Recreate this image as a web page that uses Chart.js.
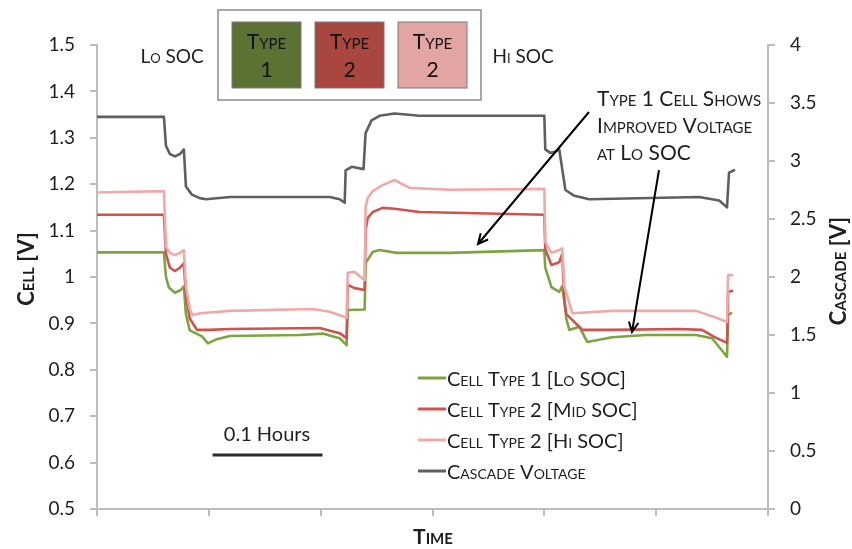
<!DOCTYPE html>
<html>
<head>
<meta charset="utf-8">
<script src="https://cdn.jsdelivr.net/npm/chart.js@4.4.1/dist/chart.umd.min.js"></script>
<style>
  body { margin: 0; background: #fff; }
  canvas { display: block; }
</style>
</head>
<body>
<canvas id="cascadeChart" width="852" height="549"></canvas>
<script>
/* ── Colours / fonts ── */
const GREEN = "#7ba540";
const RED = "#d0524d";
const PINK = "#eeaaa8";
const GREY = "#5f5f5f";
const AXIS = "#bdbdbd";
const TEXT = "#1e1e1e";
const FONT = "Lato, 'Open Sans', sans-serif";

/* ── Data (time in minutes, 6 min = 0.1 h per tick) ── */
const timeType1 = [0, 3.59, 3.7, 3.85, 4.18, 4.5, 4.66, 4.77, 4.98, 5.63, 5.95, 6.43, 7.13, 10.88, 12.11, 13.02, 13.39, 13.45, 14.36, 14.41, 14.79, 15.16, 16.07, 18.91, 24.0, 24.05, 24.38, 24.8, 24.96, 25.07, 25.18, 25.34, 25.88, 26.3, 27.64, 29.46, 32.14, 33.0, 33.8, 33.86, 34.02];
const voltType1 = [1.053, 1.053, 1.0, 0.978, 0.966, 0.972, 0.98, 0.92, 0.885, 0.872, 0.857, 0.866, 0.873, 0.875, 0.878, 0.868, 0.853, 0.929, 0.93, 1.03, 1.054, 1.058, 1.052, 1.052, 1.058, 1.02, 0.978, 0.968, 0.98, 0.95, 0.91, 0.886, 0.893, 0.86, 0.87, 0.875, 0.875, 0.868, 0.828, 0.918, 0.922];

const timeType2Mid = [0, 3.59, 3.7, 3.91, 4.18, 4.45, 4.66, 4.77, 4.98, 5.36, 6.05, 7.13, 11.95, 13.02, 13.39, 13.45, 13.82, 14.36, 14.41, 14.52, 14.79, 15.32, 15.96, 17.3, 24.0, 24.05, 24.38, 24.8, 24.96, 25.07, 25.18, 26.04, 27.64, 31.23, 32.46, 33.11, 33.8, 33.86, 34.07];
const voltType2Mid = [1.134, 1.134, 1.05, 1.02, 1.013, 1.02, 1.03, 0.96, 0.91, 0.886, 0.886, 0.888, 0.89, 0.879, 0.868, 0.983, 0.976, 0.972, 1.1, 1.127, 1.14, 1.149, 1.147, 1.14, 1.134, 1.06, 1.026, 1.032, 1.05, 0.95, 0.92, 0.886, 0.886, 0.888, 0.886, 0.871, 0.858, 0.968, 0.97];

const timeType2Hi = [0, 3.59, 3.7, 3.91, 4.18, 4.45, 4.66, 4.77, 4.98, 5.14, 5.52, 7.13, 11.57, 12.48, 13.39, 13.45, 13.82, 14.36, 14.41, 14.52, 14.79, 15.32, 15.96, 16.77, 18.91, 24.0, 24.05, 24.38, 24.8, 24.96, 25.07, 25.5, 27.64, 32.14, 33.11, 33.8, 33.86, 34.07];
const voltType2Hi = [1.182, 1.185, 1.065, 1.052, 1.047, 1.052, 1.058, 0.98, 0.93, 0.918, 0.922, 0.927, 0.931, 0.925, 0.912, 1.009, 1.011, 0.993, 1.15, 1.17, 1.185, 1.198, 1.209, 1.192, 1.188, 1.19, 1.075, 1.052, 1.058, 1.062, 0.98, 0.922, 0.927, 0.927, 0.914, 0.903, 1.004, 1.004];

const timeCascade = [0, 3.59, 3.7, 3.91, 4.18, 4.45, 4.66, 4.77, 5.09, 5.52, 5.84, 7.13, 12.48, 13.02, 13.29, 13.34, 13.66, 14.3, 14.41, 14.73, 15.16, 15.96, 17.3, 24.0, 24.05, 24.32, 24.59, 24.8, 25.13, 25.61, 26.41, 32.3, 33.38, 33.8, 33.91, 34.18];
const voltCascade = [3.38, 3.38, 3.13, 3.06, 3.04, 3.06, 3.1, 2.78, 2.71, 2.68, 2.67, 2.69, 2.69, 2.67, 2.64, 2.92, 2.95, 2.93, 3.24, 3.35, 3.39, 3.41, 3.39, 3.39, 3.1, 3.07, 3.08, 3.1, 2.75, 2.7, 2.67, 2.69, 2.66, 2.6, 2.9, 2.92];

const seriesLabels = ["Cell Type 1 [Lo SOC]", "Cell Type 2 [Mid SOC]", "Cell Type 2 [Hi SOC]", "Cascade Voltage"];
const boxLabels = [["Type", "1"], ["Type", "2"], ["Type", "2"]];
const noteLines = ["Type 1 Cell Shows", "Improved Voltage", "at Lo SOC"];

const pts = (t, v) => t.map((x, i) => ({ x: x, y: v[i] }));

/* ── Custom drawing: titles, legends, notes ── */
function arrow(ctx, x1, y1, x2, y2) {
  const a = Math.atan2(y2 - y1, x2 - x1);
  ctx.beginPath();
  ctx.moveTo(x1, y1);
  ctx.lineTo(x2, y2);
  ctx.moveTo(x2 - 11 * Math.cos(a - 0.45), y2 - 11 * Math.sin(a - 0.45));
  ctx.lineTo(x2, y2);
  ctx.lineTo(x2 - 11 * Math.cos(a + 0.45), y2 - 11 * Math.sin(a + 0.45));
  ctx.stroke();
}

const decor = {
  id: "decor",
  afterDraw(chart) {
    const ctx = chart.ctx;
    ctx.save();
    ctx.fillStyle = TEXT;
    ctx.textBaseline = "middle";

    /* axis titles */
    ctx.font = `small-caps bold 21px ${FONT}`;
    ctx.textAlign = "center";
    ctx.fillText("Time", 433, 537);
    ctx.font = `small-caps bold 22px ${FONT}`;
    ctx.save();
    ctx.translate(27, 269);
    ctx.rotate(-Math.PI / 2);
    ctx.fillText("Cell [V]", 0, 0);
    ctx.restore();
    ctx.save();
    ctx.translate(839, 271);
    ctx.rotate(-Math.PI / 2);
    ctx.fillText("Cascade [V]", 0, 0);
    ctx.restore();

    /* SOC labels */
    ctx.font = `small-caps 19px ${FONT}`;
    ctx.fillText("Lo SOC", 172, 57);
    ctx.fillText("Hi SOC", 523, 57);

    /* type boxes */
    ctx.fillStyle = "#fff";
    ctx.fillRect(218, 10, 263, 90);
    ctx.strokeStyle = "#8c8c8c";
    ctx.lineWidth = 1.5;
    ctx.strokeRect(218, 10, 263, 90);
    const boxFill = ["#5b7232", "#a8463f", "#e2a5a3"];
    boxLabels.forEach((lab, i) => {
      const bx = 232 + i * 83;
      ctx.fillStyle = boxFill[i];
      ctx.fillRect(bx, 22, 69, 66);
      ctx.strokeStyle = "#7a7a7a";
      ctx.lineWidth = 1;
      ctx.strokeRect(bx, 22, 69, 66);
      ctx.fillStyle = "#111";
      ctx.font = `small-caps 21px ${FONT}`;
      ctx.fillText(lab[0], bx + 34.5, 42);
      ctx.font = `21px ${FONT}`;
      ctx.fillText(lab[1], bx + 34.5, 70);
    });

    /* note + arrows */
    ctx.fillStyle = TEXT;
    ctx.textAlign = "left";
    ctx.font = `small-caps 21px ${FONT}`;
    noteLines.forEach((l, i) => ctx.fillText(l, 597, 99 + i * 27));
    ctx.strokeStyle = "#000";
    ctx.lineWidth = 2;
    arrow(ctx, 589, 112, 478, 244);
    arrow(ctx, 659, 170, 632, 332);

    /* series legend */
    chart.data.datasets.forEach((ds, i) => {
      const y = 378 + i * 31;
      ctx.strokeStyle = ds.borderColor;
      ctx.lineWidth = 3;
      ctx.beginPath();
      ctx.moveTo(418, y);
      ctx.lineTo(446, y);
      ctx.stroke();
      ctx.fillStyle = TEXT;
      ctx.font = `small-caps 20px ${FONT}`;
      ctx.fillText(ds.label, 447, y + 2);
    });

    /* scale bar */
    ctx.textAlign = "center";
    ctx.font = `20px ${FONT}`;
    ctx.fillText("0.1 Hours", 267, 435);
    const sx = chart.scales.x;
    ctx.strokeStyle = "#2a2a2a";
    ctx.lineWidth = 3;
    ctx.beginPath();
    ctx.moveTo(sx.getPixelForValue(6.2), 455);
    ctx.lineTo(sx.getPixelForValue(12.1), 455);
    ctx.stroke();
    ctx.restore();
  },
};

const tickFont = { family: FONT, size: 19 };

new Chart(document.getElementById("cascadeChart"), {
  type: "line",
  data: {
    datasets: [
      { label: seriesLabels[0], data: pts(timeType1, voltType1), borderColor: GREEN, yAxisID: "y", order: 4 },
      { label: seriesLabels[1], data: pts(timeType2Mid, voltType2Mid), borderColor: RED, yAxisID: "y", order: 3 },
      { label: seriesLabels[2], data: pts(timeType2Hi, voltType2Hi), borderColor: PINK, yAxisID: "y", order: 2 },
      { label: seriesLabels[3], data: pts(timeCascade, voltCascade), borderColor: GREY, yAxisID: "y2", order: 1 },
    ],
  },
  options: {
    responsive: false,
    animation: false,
    layout: { padding: { top: 45, left: 0, right: 0, bottom: 0 } },
    elements: {
      point: { radius: 0 },
      line: { borderWidth: 2.6, tension: 0, borderJoinStyle: "round", borderCapStyle: "round" },
    },
    plugins: { legend: { display: false }, tooltip: { enabled: false } },
    scales: {
      x: {
        type: "linear",
        min: 0,
        max: 36,
        border: { color: AXIS, width: 2 },
        grid: { drawOnChartArea: false, color: AXIS, lineWidth: 2, tickLength: 7 },
        ticks: { stepSize: 6, callback: () => "", padding: 0 },
        afterFit: (s) => { s.height = 40; },
      },
      y: {
        position: "left",
        min: 0.5,
        max: 1.5,
        border: { color: AXIS, width: 2 },
        grid: { drawOnChartArea: false, color: AXIS, lineWidth: 2, tickLength: 7 },
        ticks: { stepSize: 0.1, padding: 15, color: TEXT, font: tickFont, callback: (v) => String(+v.toFixed(1)) },
        afterFit: (s) => { s.width = 97; },
      },
      y2: {
        position: "right",
        min: 0,
        max: 4,
        border: { color: AXIS, width: 2 },
        grid: { drawOnChartArea: false, color: AXIS, lineWidth: 2, tickLength: 7 },
        ticks: { stepSize: 0.5, padding: 15, color: TEXT, font: tickFont, callback: (v) => String(+v.toFixed(1)) },
        afterFit: (s) => { s.width = 84; },
      },
    },
  },
  plugins: [decor],
});
</script>
</body>
</html>
